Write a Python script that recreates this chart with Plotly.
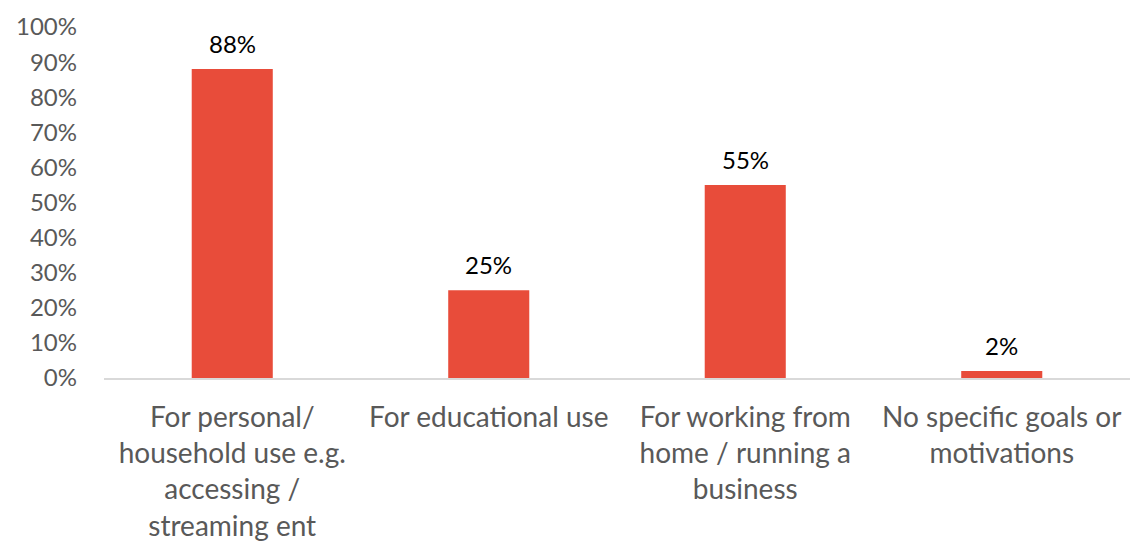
import plotly.graph_objects as go

# Survey responses: main reasons for using the connection
categories = [
    "For personal/<br>household use e.g.<br>accessing /<br>streaming ent",
    "For educational use",
    "For working from<br>home / running a<br>business",
    "No specific goals or<br>motivations",
]
shares = [88, 25, 55, 2]
y_ticks = list(range(0, 101, 10))

bar_color = "#E84C3A"
font_family = "Lato, 'Source Sans Pro', 'Open Sans', sans-serif"

x_pos = list(range(len(categories)))

fig = go.Figure(
    go.Bar(
        x=x_pos,
        y=shares,
        marker=dict(color=bar_color, line=dict(width=0)),
        hoverinfo="skip",
    )
)

# Value labels above each bar
for xi, v in zip(x_pos, shares):
    fig.add_annotation(
        x=xi,
        y=v,
        text=f"{v}%",
        showarrow=False,
        yanchor="bottom",
        yshift=9,
        font=dict(family=font_family, size=24, color="#000000"),
    )

fig.update_layout(
    width=1130,
    height=541,
    margin=dict(l=104, r=0, t=27, b=163),
    paper_bgcolor="white",
    plot_bgcolor="white",
    bargap=0.684,
    showlegend=False,
    font=dict(family=font_family),
)

fig.update_xaxes(
    tickmode="array",
    tickvals=x_pos,
    ticktext=categories,
    range=[-0.5, len(categories) - 0.5],
    tickfont=dict(family=font_family, size=28, color="#595959"),
    showgrid=False,
    showline=True,
    linecolor="#D9D9D9",
    linewidth=2,
    ticks="",
    ticklabelstandoff=13,
    zeroline=False,
)

fig.update_yaxes(
    range=[0, 100],
    tickmode="array",
    tickvals=y_ticks,
    ticktext=[f"{v}%" for v in y_ticks],
    tickfont=dict(family=font_family, size=24, color="#595959"),
    showgrid=False,
    showline=False,
    zeroline=False,
    ticks="",
    ticklabelstandoff=26,
)

fig.write_html("out.html")
